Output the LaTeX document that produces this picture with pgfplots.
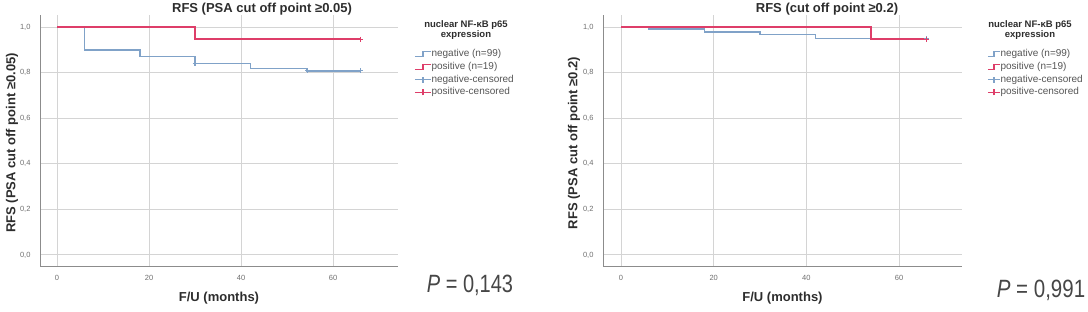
\documentclass[border=0pt]{standalone}
\usepackage{fontspec}
\setmainfont{Liberation Sans}
\usepackage{pgfplots}
\pgfplotsset{compat=1.18}
\definecolor{negc}{RGB}{128,162,200}
\definecolor{posc}{RGB}{222,62,105}
\definecolor{gridc}{RGB}{212,212,212}
\definecolor{spinec}{RGB}{140,140,140}
\definecolor{tickc}{RGB}{110,110,110}
\definecolor{legc}{RGB}{85,85,85}
\definecolor{labc}{RGB}{45,45,45}

\pgfplotsset{
 kmstyle/.style={
  scale only axis, height=252pt, ymin=-0.053, ymax=1.053,
  axis x line*=bottom, axis y line*=left,
  axis line style={spinec, line width=1pt, -},
  xtick={0,20,40,60}, xticklabels={0,20,40,60},
  ytick={0,0.2,0.4,0.6,0.8,1.0},
  yticklabels={{0,0},{0,2},{0,4},{0,6},{0,8},{1,0}},
  major tick length=0pt,
  grid=major, grid style={gridc, line width=1pt},
  tick label style={font=\fontsize{7.5}{9}\selectfont, text=tickc},
  xticklabel style={yshift=-4.4pt}, yticklabel style={xshift=-6pt},
  label style={font=\bfseries\fontsize{13}{15}\selectfont, text=labc},
  xlabel={F/U (months)},
  xlabel style={at={(axis description cs:0.5,-0.123)}, anchor=center},
  legend cell align=left,
  legend style={anchor=north west, draw=none, fill=none, inner sep=0pt,
    font=\fontsize{10}{12}\selectfont, text=legc, row sep=3.7pt,
    nodes={inner sep=0pt, text height=7pt, text depth=2pt}},
 },
}

\begin{document}
\begin{tikzpicture}[x=1pt,y=1pt]
\useasboundingbox (0,0) rectangle (1088,312);

% ---------- left panel ----------
\begin{axis}[kmstyle, at={(40pt,45pt)}, anchor=south west,
  width=358pt, xmin=-3.7, xmax=74.1,
  ylabel={RFS (PSA cut off point ≥0.05)},
  ylabel style={at={(axis description cs:-0.078,0.492)}, anchor=center},
  legend style={at={(axis description cs:1.045,0.863)}}]
\addplot[const plot, draw=negc, color=negc, line width=1.5pt,
  legend image code/.code={\draw[draw=negc, line width=1.2pt] (0pt,-2.5pt) -- (8pt,-2.5pt) -- (8pt,2.5pt) -- (16pt,2.5pt);}]
  coordinates {(0,1.0) (6,0.899) (18,0.870) (30,0.840) (42,0.818) (54.3,0.808) (66,0.808)};
\addlegendentry{negative (n=99)}
\addplot[const plot, draw=posc, color=posc, line width=1.5pt,
  legend image code/.code={\draw[draw=posc, line width=1.2pt] (0pt,-2.5pt) -- (8pt,-2.5pt) -- (8pt,2.5pt) -- (16pt,2.5pt);}]
  coordinates {(0,1.0) (30,0.947) (66,0.947)};
\addlegendentry{positive (n=19)}
\addplot[only marks, mark=+, mark size=2.5pt, color=negc, mark options={draw=negc, line width=1.2pt},
  legend image code/.code={\draw[draw=negc, line width=1.2pt] (0pt,0pt) -- (16pt,0pt); \draw[draw=negc, line width=1.2pt] (8pt,-3pt) -- (8pt,3pt);}]
  coordinates {(30,0.840) (54.5,0.808) (66,0.808)};
\addlegendentry{negative-censored}
\addplot[only marks, mark=+, mark size=2.5pt, color=posc, mark options={draw=posc, line width=1.2pt},
  legend image code/.code={\draw[draw=posc, line width=1.2pt] (0pt,0pt) -- (16pt,0pt); \draw[draw=posc, line width=1.2pt] (8pt,-3pt) -- (8pt,3pt);}]
  coordinates {(66,0.947)};
\addlegendentry{positive-censored}
\end{axis}

% ---------- right panel ----------
\begin{axis}[kmstyle, at={(603pt,45pt)}, anchor=south west,
  width=359pt, xmin=-3.9, xmax=73.6,
  ylabel={RFS (PSA cut off point ≥0.2)},
  ylabel style={at={(axis description cs:-0.081,0.492)}, anchor=center},
  legend style={at={(axis description cs:1.07,0.863)}}]
\addplot[const plot, draw=negc, color=negc, line width=1.5pt,
  legend image code/.code={\draw[draw=negc, line width=1.2pt] (0pt,-2.5pt) -- (6pt,-2.5pt) -- (6pt,2.5pt) -- (12pt,2.5pt);}]
  coordinates {(0,1.0) (6,0.991) (18,0.979) (30,0.968) (42,0.950) (66,0.950)};
\addlegendentry{negative (n=99)}
\addplot[const plot, draw=posc, color=posc, line width=1.5pt,
  legend image code/.code={\draw[draw=posc, line width=1.2pt] (0pt,-2.5pt) -- (6pt,-2.5pt) -- (6pt,2.5pt) -- (12pt,2.5pt);}]
  coordinates {(0,1.0) (54,0.947) (66,0.947)};
\addlegendentry{positive (n=19)}
\addplot[only marks, mark=+, mark size=2.5pt, color=negc, mark options={draw=negc, line width=1.2pt},
  legend image code/.code={\draw[draw=negc, line width=1.2pt] (0pt,0pt) -- (12pt,0pt); \draw[draw=negc, line width=1.2pt] (6pt,-3pt) -- (6pt,3pt);}]
  coordinates {(66,0.950)};
\addlegendentry{negative-censored}
\addplot[only marks, mark=+, mark size=2.5pt, color=posc, mark options={draw=posc, line width=1.2pt},
  legend image code/.code={\draw[draw=posc, line width=1.2pt] (0pt,0pt) -- (12pt,0pt); \draw[draw=posc, line width=1.2pt] (6pt,-3pt) -- (6pt,3pt);}]
  coordinates {(66,0.947)};
\addlegendentry{positive-censored}
\end{axis}

% titles
\node[font=\bfseries\fontsize{13}{15}\selectfont, text=labc] at (262,303) {RFS (PSA cut off point ≥0.05)};
\node[font=\bfseries\fontsize{13}{15}\selectfont, text=labc] at (827,303) {RFS (cut off point ≥0.2)};
% legend titles
\node[font=\bfseries\fontsize{9.5}{10.5}\selectfont, text=labc, align=center] at (466,282) {nuclear NF-κB p65\\expression};
\node[font=\bfseries\fontsize{9.5}{10.5}\selectfont, text=labc, align=center] at (1030,282) {nuclear NF-κB p65\\expression};
% p values
\node[text={rgb,255:red,70;green,70;blue,70}] at (470,27) {\scalebox{0.8}[1]{\fontsize{25}{25}\selectfont\textit{P} = 0,143}};
\node[text={rgb,255:red,70;green,70;blue,70}] at (1041,22) {\scalebox{0.82}[1]{\fontsize{25}{25}\selectfont\textit{P} = 0,991}};
\end{tikzpicture}
\end{document}
